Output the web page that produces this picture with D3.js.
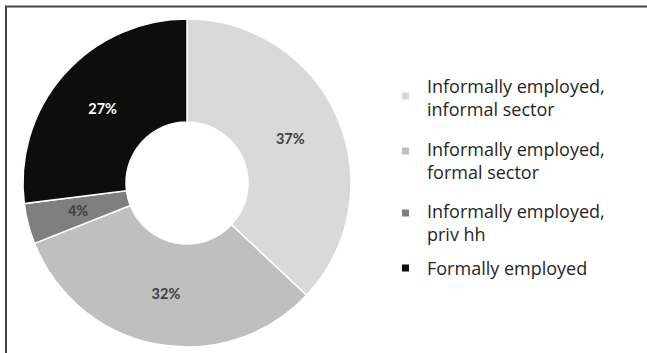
<!DOCTYPE html>
<html><head><meta charset="utf-8">
<script src="https://cdn.jsdelivr.net/npm/d3@7"></script>
<style>body{margin:0;background:#fff}svg{display:block}</style>
</head><body>
<svg id="c" width="647" height="353"></svg>
<script>
const categories = ["Informally employed, informal sector","Informally employed, formal sector","Informally employed, priv hh","Formally employed"];
const legendLines = [["Informally employed,","informal sector"],["Informally employed,","formal sector"],["Informally employed,","priv hh"],["Formally employed"]];
const values = [37,32,4,27];
const labels = ["37%","32%","4%","27%"];
const colors = ["#d9d9d9","#bfbfbf","#7f7f7f","#0d0d0d"];
const labelColors = ["#404040","#404040","#404040","#ffffff"];

const svg = d3.select("#c");
svg.append("line").attr("x1",5).attr("x2",647).attr("y1",6.5).attr("y2",6.5).attr("stroke","#444").attr("stroke-width",2);
svg.append("line").attr("x1",6).attr("x2",6).attr("y1",6).attr("y2",353).attr("stroke","#444").attr("stroke-width",2);

const cx=187, cy=183, R=164, r=61;
const pie = d3.pie().sort(null).value(d=>d);
const arc = d3.arc().innerRadius(r).outerRadius(R);
const lab = d3.arc().innerRadius((r+R)/2).outerRadius((r+R)/2);
const g = svg.append("g").attr("transform",`translate(${cx},${cy})`);
const arcs = pie(values);
g.selectAll("path").data(arcs).join("path").attr("d",arc).attr("fill",(d,i)=>colors[i]).attr("stroke","#fff").attr("stroke-width",1.5);
g.selectAll("text").data(arcs).join("text")
  .attr("transform",d=>`translate(${lab.centroid(d)})`)
  .attr("text-anchor","middle").attr("dy","0.36em")
  .attr("font-family","Lato, 'Open Sans', sans-serif").attr("font-weight","bold").attr("font-size",14.5)
  .attr("fill",(d,i)=>labelColors[i]).text((d,i)=>labels[i]);

const lg = svg.append("g").attr("font-family","'Open Sans', sans-serif").attr("font-size",18).attr("fill","#262626");
const baselines=[[93,116],[156,179],[218,241],[275]];
const markerY=[96,151,213,268];
legendLines.forEach((lines,i)=>{
  lg.append("rect").attr("x",402).attr("y",markerY[i]-3.5).attr("width",7).attr("height",7).attr("fill",colors[i]);
  lines.forEach((t,j)=>{
    lg.append("text").attr("x",427).attr("y",baselines[i][j]).text(t);
  });
});
</script>
</body></html>
